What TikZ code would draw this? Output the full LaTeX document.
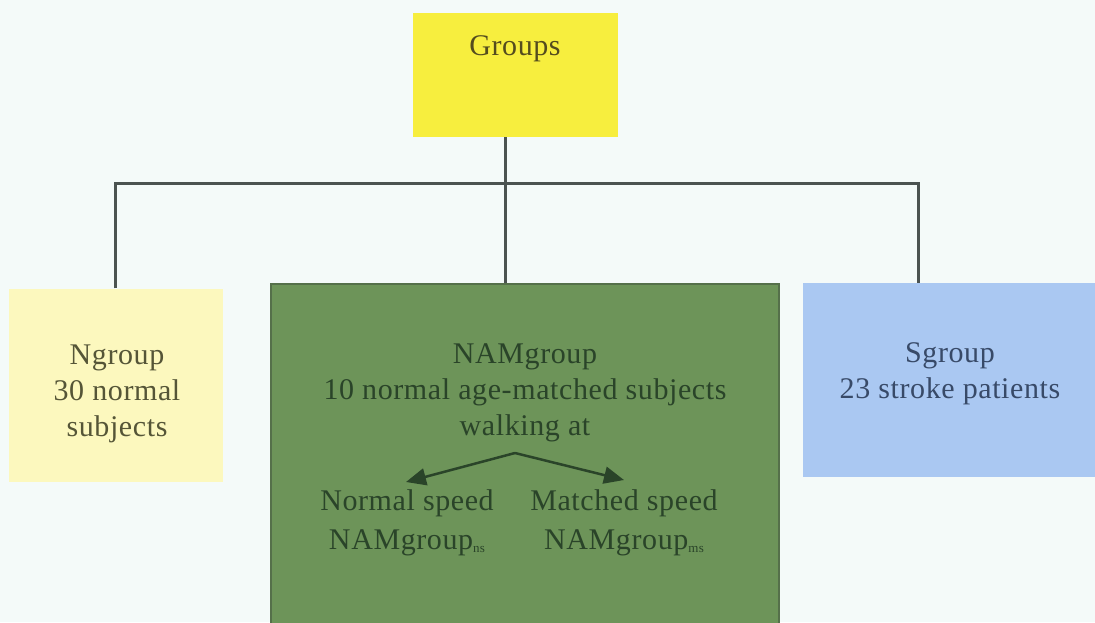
\documentclass[tikz,border=0pt]{standalone}
\usepackage{fontspec}
\setmainfont{Liberation Serif}[LetterSpace=2]
\usetikzlibrary{arrows.meta}
\definecolor{bg}{HTML}{F4FAF9}
\definecolor{yel}{HTML}{F7EE3E}
\definecolor{yeltxt}{HTML}{544C1E}
\definecolor{lyel}{HTML}{FCF8BE}
\definecolor{lyeltxt}{HTML}{555537}
\definecolor{grn}{HTML}{6D9459}
\definecolor{grnbd}{HTML}{55704A}
\definecolor{grntxt}{HTML}{2A4429}
\definecolor{blu}{HTML}{AAC8F2}
\definecolor{blutxt}{HTML}{384A68}
\definecolor{linec}{HTML}{4B5351}
\newcommand{\sub}[1]{\raisebox{-3pt}{\fontsize{13}{13}\selectfont #1}}
\begin{document}
\begin{tikzpicture}[x=1pt,y=-1pt,
  box/.style={rectangle, inner sep=0pt, draw=none},
  txt/.style={align=center, font=\fontsize{30}{36}\selectfont, inner sep=0pt},
  conn/.style={draw=linec, line width=3pt},
  splitarrow/.style={draw=grntxt, line width=2.5pt, -{Triangle[length=20pt,width=17pt]}}]
\fill[bg] (0,0) rectangle (1095,622);
\useasboundingbox (0,0) rectangle (1095,622);
% boxes
\node[box, fill=yel, minimum width=205pt, minimum height=124pt] (groups) at (515.5,75) {};
\node[box, fill=lyel, minimum width=214pt, minimum height=193pt] (ngroup) at (116,385) {};
\node[box, fill=grn, draw=grnbd, line width=2pt, minimum width=508pt, minimum height=345pt] (nam) at (525,456) {};
\node[box, fill=blu, minimum width=292pt, minimum height=194pt] (sgroup) at (949,380) {};
% texts
\node[txt, text=yeltxt] (tgroups) at (515,49) {Groups};
\node[txt, text=lyeltxt] (tngroup) at (117,394) {Ngroup\\30 normal\\subjects};
\node[txt, text=grntxt] (tnam) at (525,393) {NAMgroup\\10 normal age-matched subjects\\walking at};
\node[txt, text=blutxt] (tsgroup) at (950,374) {Sgroup\\23 stroke patients};
\node[txt, text=grntxt, font=\fontsize{30}{39}\selectfont] (tnormal) at (407,523) {Normal speed\\NAMgroup\sub{ns}};
\node[txt, text=grntxt, font=\fontsize{30}{39}\selectfont] (tmatched) at (624,523) {Matched speed\\NAMgroup\sub{ms}};
% connectors
\coordinate (jl) at (115,183);
\coordinate (jm) at (505,183);
\coordinate (jr) at (918,183);
\draw[conn] (groups.south -| jm) -- (nam.north -| jm);
\draw[conn] (ngroup.north -| jl) -- (jl) -- (jr) -- (sgroup.north -| jr);
% split arrows
\coordinate (apex) at (515,453);
\coordinate (tipl) at (406,482);
\coordinate (tipr) at (624,480);
\draw[splitarrow] (apex) -- (tipl);
\draw[splitarrow] (apex) -- (tipr);
\end{tikzpicture}
\end{document}
